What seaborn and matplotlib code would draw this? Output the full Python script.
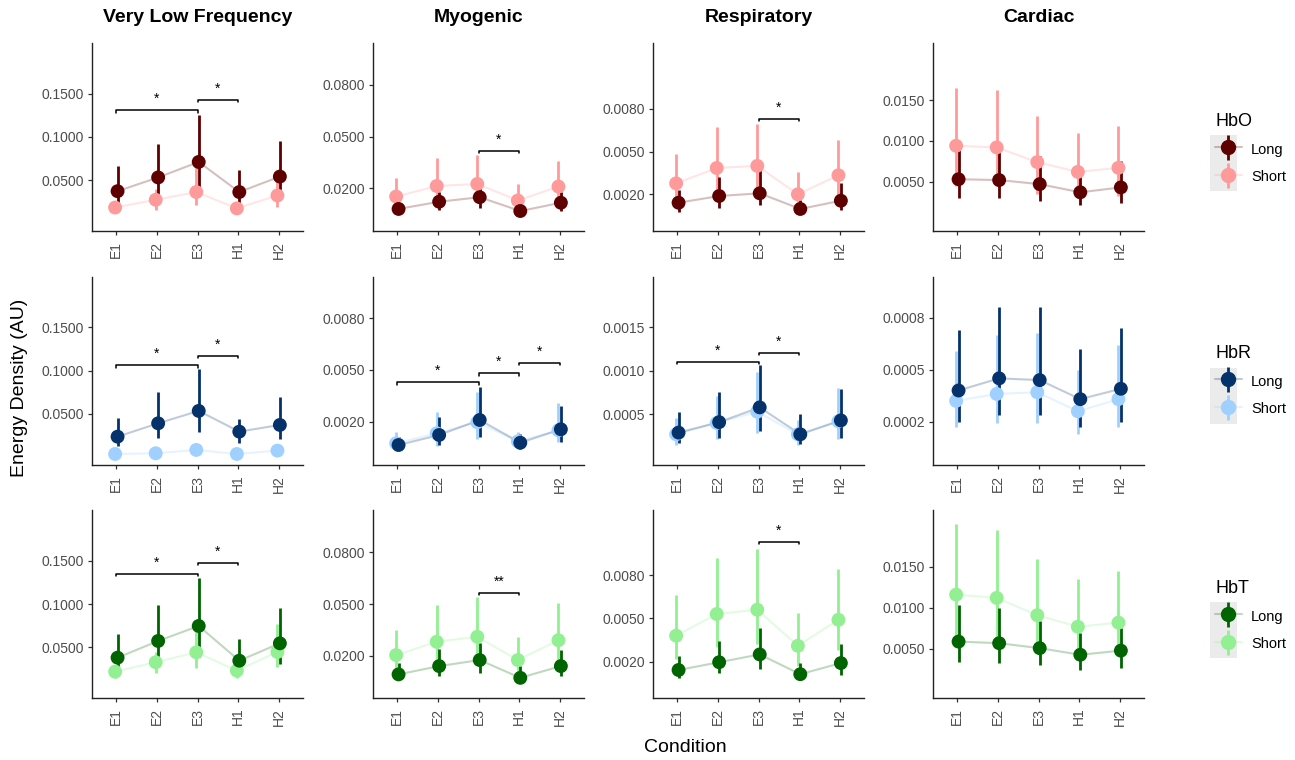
import numpy as np
import pandas as pd
import matplotlib
matplotlib.use("Agg")
import matplotlib.pyplot as plt
from matplotlib.lines import Line2D
from matplotlib.patches import Rectangle
import seaborn as sns

CONDITIONS = ["E1", "E2", "E3", "H1", "H2"]
BANDS = ["Very Low Frequency", "Myogenic", "Respiratory", "Cardiac"]
SIGNALS = ["HbO", "HbR", "HbT"]
LENGTHS = ["Long", "Short"]

# each array: one row per band (VLF, Myogenic, Respiratory, Cardiac), one value per condition
HBO_LONG_MEAN = [[0.037, 0.053, 0.071, 0.036, 0.054],
                 [0.0080, 0.0122, 0.0148, 0.0068, 0.0116],
                 [0.00141, 0.00188, 0.00207, 0.00097, 0.00155],
                 [0.0053, 0.0052, 0.0047, 0.0037, 0.0043]]
HBO_LONG_LO = [[0.023, 0.033, 0.040, 0.021, 0.035],
               [0.0058, 0.0074, 0.0084, 0.0045, 0.0068],
               [0.00078, 0.00106, 0.00125, 0.00060, 0.00090],
               [0.0030, 0.0030, 0.0026, 0.0022, 0.0024]]
HBO_LONG_HI = [[0.066, 0.092, 0.126, 0.062, 0.095],
               [0.0110, 0.0180, 0.0200, 0.0100, 0.0180],
               [0.0023, 0.0032, 0.0037, 0.0016, 0.0028],
               [0.0089, 0.0088, 0.0081, 0.0064, 0.0075]]
HBO_SHORT_MEAN = [[0.018, 0.027, 0.036, 0.017, 0.032],
                  [0.0152, 0.0213, 0.0225, 0.0129, 0.0210],
                  [0.00277, 0.00385, 0.0040, 0.0020, 0.00334],
                  [0.0094, 0.0092, 0.0074, 0.0062, 0.0067]]
HBO_SHORT_LO = [[0.012, 0.015, 0.021, 0.012, 0.019],
                [0.0090, 0.0110, 0.0120, 0.0080, 0.0110],
                [0.0012, 0.0018, 0.0019, 0.0009, 0.0015],
                [0.0045, 0.0045, 0.0035, 0.0030, 0.0033]]
HBO_SHORT_HI = [[0.026, 0.040, 0.075, 0.025, 0.050],
                [0.0262, 0.0374, 0.0393, 0.0223, 0.0358],
                [0.0048, 0.0067, 0.00695, 0.00359, 0.0058],
                [0.0165, 0.0162, 0.0130, 0.0110, 0.0118]]

HBR_LONG_MEAN = [[0.0238, 0.0392, 0.0535, 0.0296, 0.0373],
                 [0.00065, 0.00123, 0.0021, 0.00078, 0.00156],
                 [0.00029, 0.00041, 0.00058, 0.00027, 0.00043],
                 [0.00038, 0.00045, 0.00044, 0.00033, 0.00039]]
HBR_LONG_LO = [[0.013, 0.022, 0.029, 0.016, 0.021],
               [0.0004, 0.00065, 0.0011, 0.0004, 0.00084],
               [0.00017, 0.00023, 0.00031, 0.00016, 0.00023],
               [0.00020, 0.00024, 0.00024, 0.00017, 0.00020]]
HBR_LONG_HI = [[0.0458, 0.075, 0.1016, 0.044, 0.070],
               [0.0011, 0.0023, 0.0040, 0.0013, 0.0029],
               [0.00053, 0.00076, 0.00107, 0.00050, 0.00079],
               [0.00073, 0.00086, 0.00086, 0.00062, 0.00074]]
HBR_SHORT_MEAN = [[0.0038, 0.0046, 0.0085, 0.0038, 0.0077],
                  [0.00075, 0.00133, 0.00197, 0.00086, 0.0015],
                  [0.00027, 0.00040, 0.00053, 0.00027, 0.00042],
                  [0.00032, 0.00036, 0.00037, 0.00026, 0.00033]]
HBR_SHORT_LO = [[0.0020, 0.0028, 0.0050, 0.0020, 0.0048],
                [0.0003, 0.0006, 0.0010, 0.0004, 0.0008],
                [0.00015, 0.00022, 0.00028, 0.00015, 0.00022],
                [0.00017, 0.00019, 0.00019, 0.00013, 0.00017]]
HBR_SHORT_HI = [[0.0060, 0.0070, 0.0120, 0.0060, 0.0110],
                [0.0014, 0.00255, 0.0037, 0.0014, 0.0031],
                [0.00046, 0.00071, 0.00099, 0.00043, 0.00080],
                [0.00061, 0.00070, 0.00071, 0.00050, 0.00064]]

HBT_LONG_MEAN = [[0.038, 0.0573, 0.0747, 0.0345, 0.0546],
                 [0.0092, 0.0140, 0.0175, 0.0072, 0.0140],
                 [0.00142, 0.00196, 0.0025, 0.00113, 0.0019],
                 [0.0059, 0.0057, 0.0051, 0.0043, 0.0048]]
HBT_LONG_LO = [[0.0276, 0.031, 0.039, 0.026, 0.031],
               [0.0065, 0.0082, 0.0101, 0.0055, 0.0082],
               [0.00085, 0.0012, 0.0015, 0.0007, 0.0011],
               [0.0034, 0.0033, 0.0030, 0.0025, 0.0027]]
HBT_LONG_HI = [[0.065, 0.099, 0.130, 0.0593, 0.096],
               [0.0156, 0.0237, 0.0275, 0.0143, 0.0233],
               [0.0024, 0.0034, 0.0043, 0.0019, 0.0032],
               [0.0103, 0.0100, 0.0084, 0.0070, 0.0076]]
HBT_SHORT_MEAN = [[0.0218, 0.0327, 0.0442, 0.023, 0.0446],
                  [0.0204, 0.0281, 0.0310, 0.0175, 0.0290],
                  [0.0038, 0.0053, 0.0056, 0.0031, 0.0049],
                  [0.0116, 0.0112, 0.0091, 0.0077, 0.0082]]
HBT_SHORT_LO = [[0.014, 0.020, 0.026, 0.015, 0.0277],
                [0.011, 0.015, 0.017, 0.009, 0.015],
                [0.0022, 0.0030, 0.0032, 0.0017, 0.0028],
                [0.0060, 0.0060, 0.0050, 0.0040, 0.0045]]
HBT_SHORT_HI = [[0.030, 0.045, 0.070, 0.030, 0.077],
                [0.0349, 0.0494, 0.0540, 0.0308, 0.0508],
                [0.0066, 0.0092, 0.0098, 0.0054, 0.0084],
                [0.0202, 0.0195, 0.0159, 0.0135, 0.0145]]

# significance brackets: (signal row, band col, from cond, to cond, height, label)
BRACKETS = [
    (0, 0, 0, 2, 0.131, "*"), (0, 0, 2, 3, 0.143, "*"),
    (0, 1, 2, 3, 0.0417, "*"), (0, 2, 2, 3, 0.0073, "*"),
    (1, 0, 0, 2, 0.106, "*"), (1, 0, 2, 3, 0.117, "*"),
    (1, 1, 0, 2, 0.00428, "*"), (1, 1, 2, 3, 0.0048, "*"), (1, 1, 3, 4, 0.0054, "*"),
    (1, 2, 0, 2, 0.0011, "*"), (1, 2, 2, 3, 0.00121, "*"),
    (2, 0, 0, 2, 0.135, "*"), (2, 0, 2, 3, 0.148, "*"),
    (2, 1, 2, 3, 0.0563, "**"), (2, 2, 2, 3, 0.0103, "*"),
]

YTICKS = [[[0.05, 0.10, 0.15], [0.02, 0.05, 0.08], [0.002, 0.005, 0.008], [0.005, 0.010, 0.015]],
          [[0.05, 0.10, 0.15], [0.002, 0.005, 0.008], [0.0005, 0.0010, 0.0015], [0.0002, 0.0005, 0.0008]],
          [[0.05, 0.10, 0.15], [0.02, 0.05, 0.08], [0.002, 0.005, 0.008], [0.005, 0.010, 0.015]]]
YLIMS = [[(-0.0093, 0.2093), (-0.0048, 0.1043), (-0.00058, 0.01264), (-0.00104, 0.02199)],
         [(-0.0089, 0.2080), (-0.00051, 0.01039), (-0.000083, 0.00208), (-0.00005, 0.001035)],
         [(-0.0087, 0.2089), (-0.0045, 0.1045), (-0.00052, 0.01251), (-0.00095, 0.02187)]]

PALETTES = {
    "HbO": {"Long": "#5e0000", "Short": "#ff9a9a"},
    "HbR": {"Long": "#06326b", "Short": "#9fd0ff"},
    "HbT": {"Long": "#006400", "Short": "#92f092"},
}

TABLES = {
    ("HbO", "Long"): (HBO_LONG_MEAN, HBO_LONG_LO, HBO_LONG_HI),
    ("HbO", "Short"): (HBO_SHORT_MEAN, HBO_SHORT_LO, HBO_SHORT_HI),
    ("HbR", "Long"): (HBR_LONG_MEAN, HBR_LONG_LO, HBR_LONG_HI),
    ("HbR", "Short"): (HBR_SHORT_MEAN, HBR_SHORT_LO, HBR_SHORT_HI),
    ("HbT", "Long"): (HBT_LONG_MEAN, HBT_LONG_LO, HBT_LONG_HI),
    ("HbT", "Short"): (HBT_SHORT_MEAN, HBT_SHORT_LO, HBT_SHORT_HI),
}
DODGE = {"Short": -0.03, "Long": 0.03}

rows = []
for (sig, length), (m, lo, hi) in TABLES.items():
    for b, band in enumerate(BANDS):
        for c, cond in enumerate(CONDITIONS):
            rows.append({"signal": sig, "length": length, "band": band, "condition": cond,
                         "x": c + DODGE[length], "mean": m[b][c], "lo": lo[b][c], "hi": hi[b][c]})
df = pd.DataFrame(rows)
df["length"] = pd.Categorical(df["length"], ["Short", "Long"])
df = df.sort_values(["length", "x"])

sns.set_theme(style="white")
plt.rcParams["font.family"] = ["Liberation Sans", "DejaVu Sans"]
plt.rcParams["text.color"] = "black"

W, H = 1295, 760
fig = plt.figure(figsize=(W / 100, H / 100), dpi=100)

col_left = [92, 373, 653, 933]
row_top = [43, 277, 510]
ax_w, ax_h = 211, 188

for r, sig in enumerate(SIGNALS):
    pal = PALETTES[sig]
    for b, band in enumerate(BANDS):
        ax = fig.add_axes([col_left[b] / W, 1 - (row_top[r] + ax_h) / H, ax_w / W, ax_h / H])
        d = df[(df["signal"] == sig) & (df["band"] == band)]

        sns.lineplot(data=d, x="x", y="mean", hue="length", hue_order=["Short", "Long"],
                     palette=pal, alpha=0.25, lw=1.5, estimator=None, legend=False, ax=ax, zorder=1)
        for length in ["Short", "Long"]:
            s = d[d["length"] == length]
            ax.vlines(s["x"], s["lo"], s["hi"], color=pal[length], lw=2, zorder=2)
        sns.scatterplot(data=d, x="x", y="mean", hue="length", palette=pal, s=100,
                        edgecolor="none", linewidth=0, legend=False, ax=ax, zorder=3)

        ax.set_xlim(-0.6, len(CONDITIONS) - 0.4)
        ax.set_xticks(range(len(CONDITIONS)))
        ax.set_xticklabels(CONDITIONS, rotation=90)
        ax.set_ylim(*YLIMS[r][b])
        ax.set_yticks(YTICKS[r][b])
        ax.set_yticklabels([f"{v:.4f}" for v in YTICKS[r][b]])
        ax.set_xlabel("")
        ax.set_ylabel("")
        sns.despine(ax=ax)
        for sp in ["left", "bottom"]:
            ax.spines[sp].set_color("#222222")
            ax.spines[sp].set_linewidth(1.0)
        ax.tick_params(axis="both", which="both", bottom=True, left=True, length=3, width=0.9,
                       color="#333333", labelcolor="#4d4d4d", labelsize=10, pad=3)
        ax.tick_params(axis="x", pad=4)

        yr = YLIMS[r][b][1] - YLIMS[r][b][0]
        for br in BRACKETS:
            if br[0] != r or br[1] != b:
                continue
            x0, x1, yb, lab = br[2], br[3], br[4], br[5]
            ax.plot([x0, x0, x1, x1], [yb - 0.012 * yr, yb, yb, yb - 0.012 * yr],
                    color="black", lw=1.1, zorder=4)
            ax.annotate(lab, xy=((x0 + x1) / 2, yb), xytext=(0, 3), textcoords="offset points",
                        ha="center", va="bottom", fontsize=10, color="black")

        if r == 0:
            fig.text((col_left[b] + ax_w / 2) / W, 1 - 17 / H, band, ha="center", va="center",
                     fontsize=14, fontweight="bold")

    # legend for this signal
    handles = []
    for length in LENGTHS:
        h_line = Line2D([], [], color=pal[length], alpha=0.25, lw=1.5)
        h_bar = Line2D([], [], color=pal[length], marker="|", markersize=18,
                       markeredgewidth=2, linestyle="none")
        h_pt = Line2D([], [], color=pal[length], marker="o", markersize=10, linestyle="none")
        handles.append((h_line, h_bar, h_pt))
    leg_top = [106, 338, 573][r]
    leg = fig.legend(handles, LENGTHS, title=sig, loc="upper left",
                     bbox_to_anchor=(1208 / W, 1 - leg_top / H), frameon=False, borderpad=0,
                     handlelength=1.8, handleheight=1.4, labelspacing=0.72, handletextpad=0.65,
                     fontsize=10.5, title_fontsize=13)
    leg._legend_box.align = "left"
    box_top = [135, 368, 602][r]
    fig.patches.append(Rectangle((1210 / W, 1 - (box_top + 56) / H), 27 / W, 56 / H,
                                 transform=fig.transFigure, facecolor="#ebebeb",
                                 edgecolor="none", zorder=0))

fig.text(20 / W, 1 - 388 / H, "Energy Density (AU)", rotation=90, ha="center", va="center", fontsize=14)
fig.text(685 / W, 1 - 747 / H, "Condition", ha="center", va="center", fontsize=14)

fig.savefig("out.png", dpi=100, facecolor="white")
